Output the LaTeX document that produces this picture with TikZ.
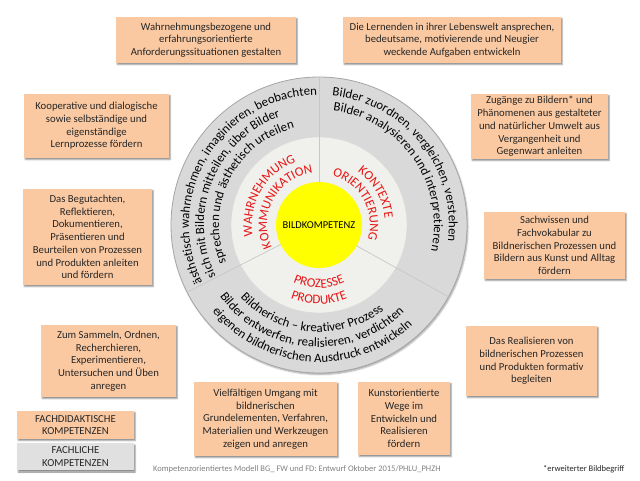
\documentclass[tikz,border=0pt]{standalone}
\usepackage{fontspec}
\setmainfont{Carlito}
\usepackage{tikz}
\usetikzlibrary{positioning,calc,shadows.blur,decorations.text}

\definecolor{peach}{RGB}{250,201,162}
\definecolor{legendgray}{RGB}{224,224,224}
\definecolor{ringgray}{RGB}{217,217,217}
\definecolor{ringlight}{RGB}{240,240,236}
\definecolor{kernyellow}{RGB}{255,255,0}
\definecolor{ringred}{RGB}{232,22,22}

\newcommand{\boxfont}{\fontsize{10.7}{12.7}\selectfont}
\newcommand{\ringfont}{\fontsize{12.8}{15}\selectfont}
\newcommand{\redfont}{\fontsize{13}{15}\selectfont\color{ringred}}
\newcommand{\kernfont}{\fontsize{10.5}{12}\selectfont}
\newcommand{\footfont}{\fontsize{8.5}{10}\selectfont}

\begin{document}
\begin{tikzpicture}[
  x=1pt, y=1pt,
  box/.style={fill=peach, inner sep=2pt, align=center, font=\boxfont, text=black!85,
              blur shadow={shadow xshift=1.2pt, shadow yshift=-1.6pt,
                           shadow blur radius=1.4pt, shadow opacity=45}},
  graybox/.style={box, fill=legendgray},
  disc/.style={circle, inner sep=0pt, outer sep=0pt},
  ringtext/.style={decorate, decoration={text along path, text align=center,
                   text={|\ringfont|#1}}},
  redtext/.style={decorate, decoration={text along path, text align=center,
                  text={|\redfont|#1}}},
  divider/.style={draw=black!22, line width=0.7pt}
]
\useasboundingbox (0,0) rectangle (640,480);

% Kreis mit drei Sektoren
\node (ring) [disc, fill=ringgray, draw=black!35, line width=0.8pt, minimum size=296,
              blur shadow={shadow xshift=1pt, shadow yshift=-1.5pt, shadow blur radius=1.5pt, shadow opacity=35}]
    at (319,255) {};
\node (mid) [disc, fill=ringlight, draw=black!15, minimum size=176] at (ring.center) {};
\node (kern) [disc, fill=kernyellow, minimum size=86, font=\kernfont] at (ring.center) {BILDKOMPETENZ};

\draw [divider] (kern.90)  -- (ring.90);
\draw [divider] (kern.207) -- (ring.207);
\draw [divider] (kern.331) -- (ring.331);

% aeusserer Ring
\path [ringtext={ästhetisch wahrnehmen, imaginieren, beobachten}]
    ($(ring.center)+(223.5:130)$) arc[start angle=223.5, end angle=73.5, radius=130];
\path [ringtext={sich mit Bildern mitteilen, über Bilder}]
    ($(ring.center)+(228:115)$) arc[start angle=228, end angle=88, radius=115];
\path [ringtext={sprechen und ästhetisch urteilen}]
    ($(ring.center)+(223:100)$) arc[start angle=223, end angle=83, radius=100];

\path [ringtext={Bilder zuordnen, vergleichen, verstehen}]
    ($(ring.center)+(108.5:130)$) arc[start angle=108.5, end angle=-31.5, radius=130];
\path [ringtext={Bilder analysieren und interpretieren}]
    ($(ring.center)+(105:115)$) arc[start angle=105, end angle=-35, radius=115];

\path [ringtext={Bildnerisch – kreativer Prozess}]
    ($(ring.center)+(195:107)$) arc[start angle=195, end angle=335, radius=107];
\path [ringtext={Bilder entwerfen, realisieren, verdichten}]
    ($(ring.center)+(195:122)$) arc[start angle=195, end angle=335, radius=122];
\path [ringtext={eigenen bildnerischen Ausdruck entwickeln}]
    ($(ring.center)+(196:137)$) arc[start angle=196, end angle=336, radius=137];

% innerer Ring
\path [redtext={WAHRNEHMUNG}]
    ($(ring.center)+(220:67)$) arc[start angle=220, end angle=80, radius=67];
\path [redtext={KOMMUNIKATION}]
    ($(ring.center)+(231:52)$) arc[start angle=231, end angle=71, radius=52];
\path [redtext={KONTEXTE}]
    ($(ring.center)+(90:66)$) arc[start angle=90, end angle=-30, radius=66];
\path [redtext={ORIENTIERUNG}]
    ($(ring.center)+(104:51)$) arc[start angle=104, end angle=-46, radius=51];
\path [redtext={PROZESSE}]
    ($(ring.center)+(220:63)$) arc[start angle=220, end angle=320, radius=63];
\path [redtext={PRODUKTE}]
    ($(ring.center)+(220:79)$) arc[start angle=220, end angle=320, radius=79];

% Kompetenzen rundherum
\node (wahr) [box, minimum width=180, minimum height=46] at (206,440)
    {Wahrnehmungsbezogene und\\erfahrungsorientierte\\Anforderungssituationen gestalten};
\node (lern) [box, minimum width=218, minimum height=46] at (452,440)
    {Die Lernenden in ihrer Lebenswelt ansprechen,\\bedeutsame, motivierende und Neugier\\weckende Aufgaben entwickeln};
\node (koop) [box, minimum width=145, minimum height=64] at (96.5,354)
    {Kooperative und dialogische\\sowie selbständige und\\eigenständige\\Lernprozesse fördern};
\node (zugang) [box, minimum width=137, minimum height=65] at (539.5,353.5)
    {Zugänge zu Bildern* und\\Phänomenen aus gestalteter\\und natürlicher Umwelt aus\\Vergangenheit und\\Gegenwart anleiten};
\node (begut) [box, minimum width=129, minimum height=96] at (87.5,243)
    {Das Begutachten,\\Reflektieren,\\Dokumentieren,\\Präsentieren und\\Beurteilen von Prozessen\\und Produkten anleiten\\und fördern};
\node (sach) [box, minimum width=141, minimum height=67] at (554.5,234.5)
    {Sachwissen und\\Fachvokabular zu\\Bildnerischen Prozessen und\\Bildern aus Kunst und Alltag\\fördern};
\node (sammeln) [box, minimum width=135, minimum height=72] at (108.5,119)
    {Zum Sammeln, Ordnen,\\Recherchieren,\\Experimentieren,\\Untersuchen und Üben\\anregen};
\node (real) [box, minimum width=131, minimum height=70] at (531.5,119)
    {Das Realisieren von\\bildnerischen Prozessen\\und Produkten formativ\\begleiten};
\node (umgang) [box, minimum width=143, minimum height=74] at (265.5,61)
    {Vielfältigen Umgang mit\\bildnerischen\\Grundelementen, Verfahren,\\Materialien und Werkzeugen\\zeigen und anregen};
\node (kunst) [box, minimum width=92, minimum height=73] at (404,61.5)
    {Kunstorientierte\\Wege im\\Entwickeln und\\Realisieren\\fördern};

% Legende
\node (fd) [box, minimum width=117, minimum height=28] at (75.5,55)
    {FACHDIDAKTISCHE\\KOMPETENZEN};
\node (fw) [graybox, minimum width=117, minimum height=27, below=4pt of fd]
    {FACHLICHE\\KOMPETENZEN};

\node (footer) [anchor=west, inner sep=0pt, font=\footfont, text=black!50] at (153,11)
    {Kompetenzorientiertes Modell BG\_ FW und FD: Entwurf Oktober 2015/PHLU\_PHZH};
\node (note) [anchor=west, inner sep=0pt, font=\footfont, text=black!85] at (543,11)
    {*erweiterter Bildbegriff};

\end{tikzpicture}
\end{document}
